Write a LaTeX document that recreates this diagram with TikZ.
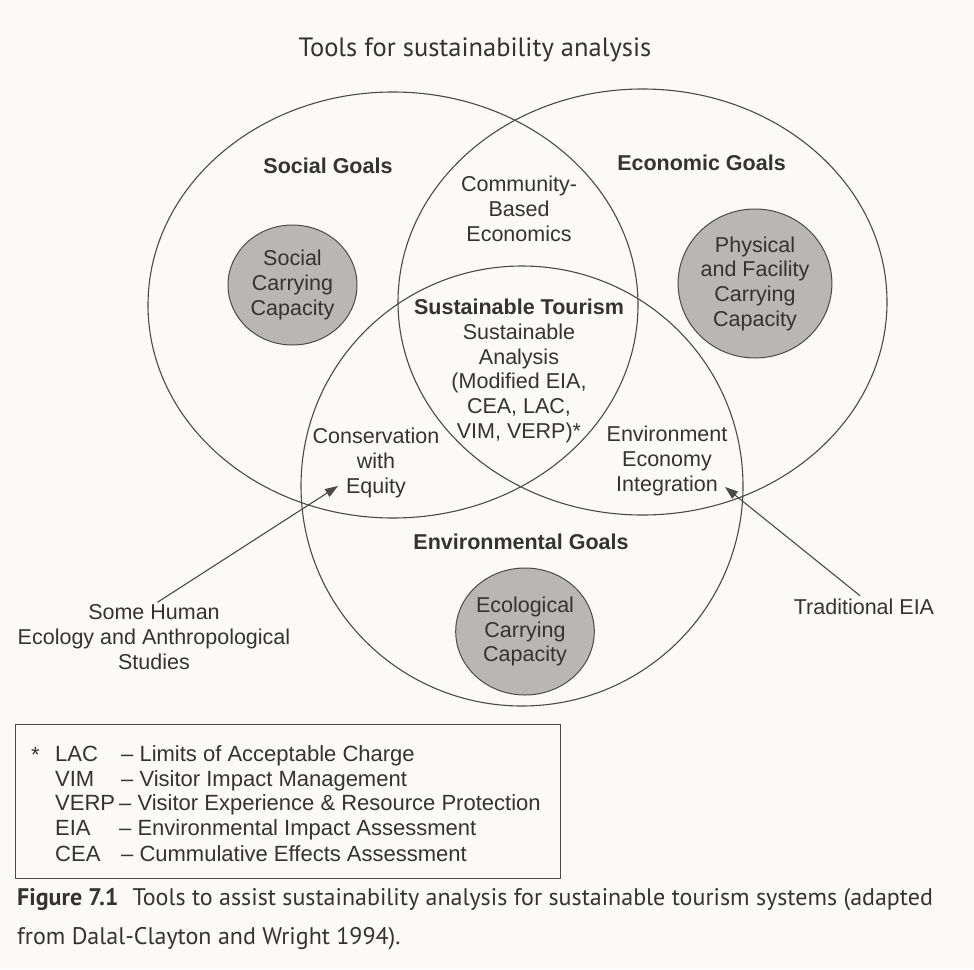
\documentclass[tikz,border=0pt]{standalone}
\usepackage{fontspec}
\setmainfont{Liberation Sans}
\newfontfamily\ptsans{PT Sans}
\usetikzlibrary{arrows.meta,shapes.geometric}
\definecolor{bg}{HTML}{FBFAF6}
\definecolor{ink}{HTML}{333333}
\definecolor{lin}{HTML}{4A4A4A}
\definecolor{disk}{HTML}{B9B6B4}
\begin{document}
\begin{tikzpicture}[x=1pt,y=-1pt,
  lbl/.style={align=center,text=ink,font=\fontsize{21.5}{24.7}\selectfont,inner sep=0pt},
  goal/.style={lbl,font=\fontsize{21.5}{24.7}\selectfont\bfseries},
  ring/.style={draw=lin,line width=1.1pt},
  diskst/.style={lbl,ellipse,draw=lin,line width=1pt,fill=disk},
  arr/.style={draw=lin,line width=1.1pt,-{Triangle[length=13pt,width=9pt]}},
  leg/.style={anchor=base west,text=ink,font=\fontsize{22}{25}\selectfont,inner sep=0pt},
  capt/.style={anchor=base west,text=ink,font=\ptsans\fontsize{24}{28}\selectfont,inner sep=0pt},
]
\fill[bg] (0,0) rectangle (974,969);
\useasboundingbox (0,0) rectangle (974,969);

% title
\node[anchor=base,text=ink,font=\ptsans\fontsize{26.5}{30}\selectfont,inner sep=0pt] (title) at (475,56) {Tools for sustainability analysis};

% big goal ellipses
\draw[ring] (393,305) ellipse [x radius=245, y radius=213];
\draw[ring] (642.5,302) ellipse [x radius=244.5, y radius=213];
\draw[ring] (522,486) ellipse [x radius=221, y radius=220];

% grey carrying capacity disks
\node[diskst,minimum width=129,minimum height=120] (scc) at (292.5,285) {Social\\Carrying\\Capacity};
\node[diskst,minimum width=148,minimum height=149] (pcc) at (755,283.5) {Physical\\and Facility\\Carrying\\Capacity};
\node[diskst,minimum width=126,minimum height=127] (ecc) at (525,631.5) {Ecological\\Carrying\\Capacity};

% goal headings
\node[goal] (sg) at (328,166) {Social Goals};
\node[goal] (eg) at (701.5,163) {Economic Goals};
\node[goal] (envg) at (521,542) {Environmental Goals};

% overlap labels
\node[lbl] (cbe) at (519,209) {Community-\\Based\\Economics};
\node[lbl] (st) at (519,371) {\textbf{Sustainable Tourism}\\Sustainable\\Analysis\\(Modified EIA,\\CEA, LAC,\\VIM, VERP)*};
\node[lbl] (cwe) at (376,463) {Conservation\\with\\Equity};
\node[lbl] (eei) at (667,461) {Environment\\Economy\\Integration};

% outside labels and arrows
\node[lbl] (human) at (154,637) {Some Human\\Ecology and Anthropological\\Studies};
\node[lbl] (teia) at (864,607) {Traditional EIA};
\coordinate (ltip) at (338,486);
\coordinate (rtip) at (725,487);
\draw[arr,shorten <=4pt] (human.north) -- (ltip);
\draw[arr,shorten <=5pt] (teia.north) -- (rtip);

% legend
\node[draw=lin,line width=1pt,minimum width=545,minimum height=154,anchor=north west,inner sep=0pt] (legbox) at (15,724) {};
\node[leg] (ast) at (31,762) {*};
\node[leg] (a1) at (55,761) {LAC};
\node[leg] (a2) at (55,786) {VIM};
\node[leg] (a3) at (55,810) {VERP};
\node[leg] (a4) at (55,835) {EIA};
\node[leg] (a5) at (55,861) {CEA};
\node[leg] (d1) at (121,761) {– Limits of Acceptable Charge};
\node[leg] (d2) at (121,786) {– Visitor Impact Management};
\node[leg] (d3) at (119,810) {– Visitor Experience \& Resource Protection};
\node[leg] (d4) at (119,835) {– Environmental Impact Assessment};
\node[leg] (d5) at (121,861) {– Cummulative Effects Assessment};

% caption
\node[capt] (cap1) at (17,905) {{\bfseries Figure 7.1}\hspace{14pt}Tools to assist sustainability analysis for sustainable tourism systems (adapted};
\node[capt] (cap2) at (17,944) {from Dalal-Clayton and Wright 1994).};
\end{tikzpicture}
\end{document}
